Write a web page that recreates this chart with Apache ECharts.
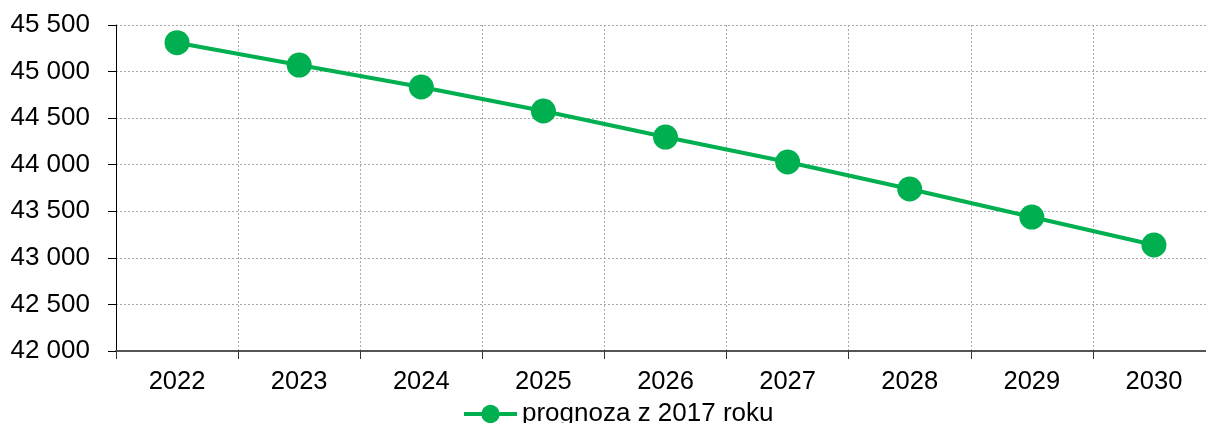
<!DOCTYPE html>
<html>
<head>
<meta charset="utf-8">
<script src="https://cdn.jsdelivr.net/npm/echarts@6/dist/echarts.min.js"></script>
<style>
  html, body { margin: 0; padding: 0; background: #fff; overflow: hidden; }
  #chart { width: 1230px; height: 423px; }
</style>
</head>
<body>
<div id="chart"></div>
<script>
const years = ["2022", "2023", "2024", "2025", "2026", "2027", "2028", "2029", "2030"];
const forecast2017 = [45310, 45070, 44834, 44577, 44297, 44029, 43739, 43438, 43138];
const seriesName = "prognoza z 2017 roku";

const FONT = "Liberation Sans, Arial, sans-serif";
const GREEN = "#00b050";

const fmt = (v) => String(v).replace(/\B(?=(\d{3})+(?!\d))/g, " ");

// chart div is wider than the window on purpose: the plot area runs past the right edge
const chart = echarts.init(document.getElementById("chart"));
chart.setOption({
  animation: false,
  grid: { left: 116, top: 25, right: 15, height: 326, containLabel: false },
  legend: {
    left: 462,
    top: 401,
    padding: 0,
    itemWidth: 53,
    itemHeight: 23,
    itemGap: 0,
    lineStyle: { width: 4 },
    textStyle: { fontFamily: FONT, fontSize: 26, color: "#000" },
    data: [seriesName],
  },
  xAxis: {
    type: "category",
    data: years,
    boundaryGap: true,
    axisLine: { lineStyle: { color: "#555", width: 2 } },
    axisTick: { show: true, length: 8, lineStyle: { color: "#333", width: 1 } },
    axisLabel: { fontFamily: FONT, fontSize: 25.5, color: "#000", margin: 18 },
    splitLine: { show: true, lineStyle: { color: "#aaa", type: [2, 2], width: 1 } },
  },
  yAxis: {
    type: "value",
    min: 42000,
    max: 45500,
    interval: 500,
    axisLine: { show: true, lineStyle: { color: "#000", width: 1 } },
    axisTick: { show: true, length: 8, lineStyle: { color: "#000" } },
    axisLabel: { fontFamily: FONT, fontSize: 26, color: "#000", margin: 26, formatter: fmt },
    splitLine: { show: true, lineStyle: { color: "#aaa", type: [2, 2], width: 1 } },
  },
  series: [
    {
      name: seriesName,
      type: "line",
      data: forecast2017,
      symbol: "circle",
      symbolSize: 25,
      itemStyle: { color: GREEN },
      lineStyle: { color: GREEN, width: 4 },
    },
  ],
});
</script>
</body>
</html>
